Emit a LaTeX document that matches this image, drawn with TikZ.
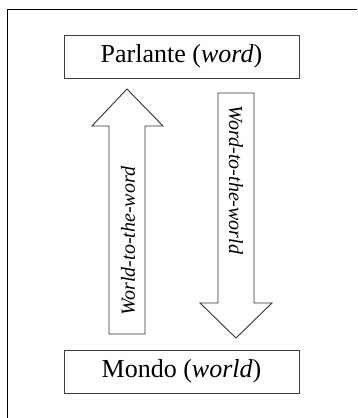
\documentclass[tikz,border=0pt]{standalone}
\usepackage{fontspec}
\setmainfont{Liberation Serif}
\begin{document}
\begin{tikzpicture}[x=1pt,y=-1pt,
  boxstyle/.style={draw=black!75,line width=0.9pt,minimum width=235pt,minimum height=43pt,inner sep=0pt,font=\fontsize{26}{29}\selectfont},
  arrowshape/.style={draw=black!80,line width=0.9pt,line join=miter},
  rottext/.style={font=\fontsize{20}{22}\selectfont\itshape,inner sep=0pt}]
\useasboundingbox (0,0) rectangle (357,418);
\draw[line width=1.6pt] (7.5,418) -- (7.5,9.5) -- (357,9.5);
\node[boxstyle] (top) at (181.5,56.5) {Parlante (\textit{word})};
\node[boxstyle] (bot) at (181.5,371.5) {Mondo (\textit{world})};
% up arrow
\coordinate (uptip) at (127,89);
\draw[arrowshape] (109,334) -- (109,126) -- (92,126) -- (uptip) -- (163,126) -- (145,126) -- (145,334) -- cycle;
\node[rottext,rotate=90] (upl) at (128,241) {World-to-the-word};
% down arrow
\coordinate (dntip) at (236,338);
\draw[arrowshape] (218,93) -- (218,303) -- (200,303) -- (dntip) -- (272,303) -- (254,303) -- (254,93) -- cycle;
\node[rottext,rotate=-90] (dnl) at (236,180) {Word-to-the-world};
\end{tikzpicture}
\end{document}
